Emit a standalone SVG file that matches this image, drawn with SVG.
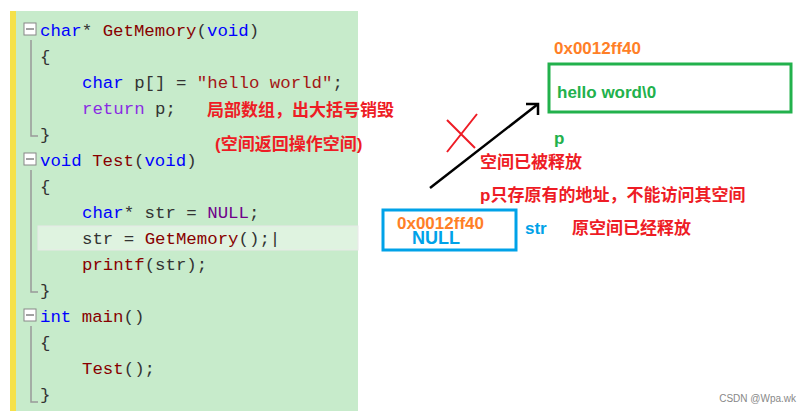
<svg xmlns="http://www.w3.org/2000/svg" width="805" height="413" viewBox="0 0 805 413">
<style>
.c{font-family:"Liberation Mono",monospace;font-size:17.4px}
.k{fill:#0000ff}.f{fill:#880000}.d{fill:#333}.s{fill:#a31515}.p{fill:#8a2be2}.m{fill:#6f008a}
.r{font-family:"Liberation Sans","Noto Sans CJK SC",sans-serif;font-size:17px;font-weight:bold;fill:#ee1c25}
.b{font-family:"Liberation Sans","Noto Sans CJK SC",sans-serif;font-weight:bold}
.g{stroke:#999;stroke-width:1.5;fill:none}
.bx{fill:#fff;stroke:#888;stroke-width:1}
</style>
<rect width="805" height="413" fill="#fff"/>
<g id="code">
<rect x="10" y="11" width="348" height="400" fill="#c7ebcb"/>
<rect x="10" y="11" width="6" height="400" fill="#f5e14a"/>
<rect x="38" y="226" width="320" height="24" fill="#dff3e0" stroke="#e8e8e8"/>
<g class="g">
<path d="M31 40V136H38M31 170V292H38M31 326V402H38"/>
</g>
<rect class="bx" x="24" y="23" width="12" height="12"/><path d="M26 29h8" stroke="#444"/>
<rect class="bx" x="24" y="153" width="12" height="12"/><path d="M26 159h8" stroke="#444"/>
<rect class="bx" x="24" y="309" width="12" height="12"/><path d="M26 315h8" stroke="#444"/>
<text class="c" x="40" y="36"><tspan class="k">char</tspan><tspan class="d">* </tspan><tspan class="f">GetMemory</tspan><tspan class="d">(</tspan><tspan class="k">void</tspan><tspan class="d">)</tspan></text>
<text class="c d" x="40" y="62">{</text>
<text class="c" x="82" y="88"><tspan class="k">char</tspan><tspan class="d"> p[] = </tspan><tspan class="s">"hello world"</tspan><tspan class="d">;</tspan></text>
<text class="c" x="82" y="114"><tspan class="p">return</tspan><tspan class="d"> p;</tspan></text>
<text class="c d" x="40" y="140">}</text>
<text class="c" x="40" y="166"><tspan class="k">void</tspan><tspan class="f"> Test</tspan><tspan class="d">(</tspan><tspan class="k">void</tspan><tspan class="d">)</tspan></text>
<text class="c d" x="40" y="192">{</text>
<text class="c" x="82" y="218"><tspan class="k">char</tspan><tspan class="d">* str = </tspan><tspan class="m">NULL</tspan><tspan class="d">;</tspan></text>
<text class="c d" x="82" y="244">str = <tspan class="f">GetMemory</tspan>();|</text>
<text class="c" x="82" y="270"><tspan class="f">printf</tspan><tspan class="d">(str);</tspan></text>
<text class="c d" x="40" y="296">}</text>
<text class="c" x="40" y="322"><tspan class="k">int</tspan><tspan class="f"> main</tspan><tspan class="d">()</tspan></text>
<text class="c d" x="40" y="348">{</text>
<text class="c" x="82" y="374"><tspan class="f">Test</tspan><tspan class="d">();</tspan></text>
<text class="c d" x="40" y="400">}</text>
</g>
<g id="notes">
<text class="r" x="207" y="116">局部数组，出大括号销毁</text>
<text class="r" x="215" y="150">(空间返回操作空间)</text>
<text class="r" x="480" y="168">空间已被释放</text>
<text class="r" x="480" y="201">p只存原有的地址，不能访问其空间</text>
<text class="r" x="572" y="234">原空间已经释放</text>
</g>
<g id="heap">
<text class="b" x="554" y="54" font-size="17" fill="#ff7f27">0x0012ff40</text>
<rect x="549" y="64" width="242" height="48" fill="none" stroke="#22b14c" stroke-width="3"/>
<text class="b" x="557" y="98" font-size="17" fill="#22b14c">hello word\0</text>
<text class="b" x="554" y="144" font-size="17" fill="#22b14c">p</text>
</g>
<g id="str">
<rect x="383" y="210" width="133" height="40" fill="none" stroke="#00a2e8" stroke-width="3"/>
<text class="b" x="412" y="244" font-size="18" fill="#00a2e8">NULL</text>
<text class="b" x="397" y="229" font-size="17" fill="#ff7f27">0x0012ff40</text>
<text class="b" x="525" y="234" font-size="17" fill="#00a2e8">str</text>
</g>
<g id="connectors">
<path d="M430 188L538 104" stroke="#000" stroke-width="2.5" fill="none"/>
<path d="M526 104L538 104L538 115" stroke="#000" stroke-width="2.5" fill="none"/>
<path d="M447 152L477 114M447 120L475 148" stroke="#ee1c25" stroke-width="2"/>
</g>
<text x="796" y="402" text-anchor="end" font-family="'Liberation Sans',sans-serif" font-size="10" fill="#888">CSDN @Wpa.wk</text>
</svg>
